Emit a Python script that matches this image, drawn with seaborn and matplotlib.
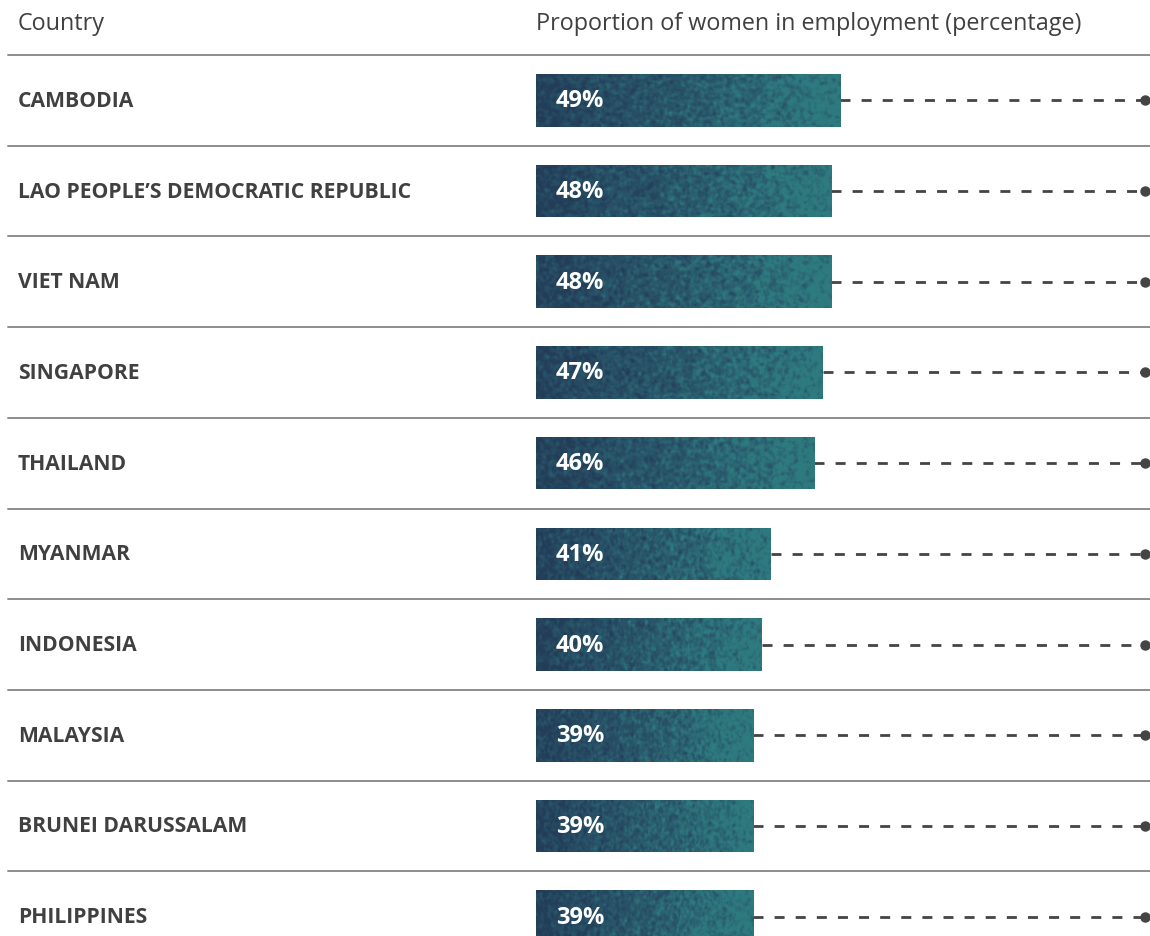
import matplotlib
matplotlib.use("Agg")
import matplotlib.pyplot as plt
import matplotlib.transforms as mtransforms
from matplotlib.colors import LinearSegmentedColormap
import numpy as np
import pandas as pd
import seaborn as sns

countries = [
    "CAMBODIA",
    "LAO PEOPLE\u2019S DEMOCRATIC REPUBLIC",
    "VIET NAM",
    "SINGAPORE",
    "THAILAND",
    "MYANMAR",
    "INDONESIA",
    "MALAYSIA",
    "BRUNEI DARUSSALAM",
    "PHILIPPINES",
]
share = [49, 48, 48, 47, 46, 41, 40, 39, 39, 39]

header_left = "Country"
header_right = "Proportion of women in employment (percentage)"

df = pd.DataFrame({"country": countries, "share": share})

sns.set_theme(style="white")
plt.rcParams["font.family"] = ["Open Sans", "DejaVu Sans"]

W, H = 1150, 937
fig = plt.figure(figsize=(W / 100, H / 100), dpi=100)
ax = fig.add_axes([536 / W, 1 - 963 / H, 614 / W, 907 / H])

text_col = "#404040"
bar_h = 0.58

sns.barplot(data=df, x="share", y="country", orient="h", color="#2b6470",
            width=bar_h, ax=ax)

# axis starts at 14 so bars begin at the left edge of the plotting area
x_lo, x_hi = 14, 84.66
leader_end = 84.1


def blur(a, n=2):
    for _ in range(n):
        a = (a + np.roll(a, 1, 0) + np.roll(a, -1, 0)
             + np.roll(a, 1, 1) + np.roll(a, -1, 1)) / 5
    return a


# speckled dark-to-teal fill on each bar
cmap = LinearSegmentedColormap.from_list("bar", ["#233d58", "#29566a", "#2e7b7f"])
rng = np.random.default_rng(7)
for patch, val in zip(ax.patches, df["share"]):
    y0 = patch.get_y()
    h = patch.get_height()
    ny, nx = 52, 300
    grad = np.tile(np.linspace(0.1, 1.0, nx), (ny, 1))
    blotch = blur(rng.normal(0, 0.6, (ny, nx)), 4)
    grain = blur(rng.normal(0, 0.15, (ny, nx)), 1)
    img = np.clip(grad + blotch + grain, 0, 1)
    im = ax.imshow(img, cmap=cmap, vmin=0, vmax=1, aspect="auto",
                   extent=(x_lo, val, y0 + h, y0), interpolation="bilinear",
                   zorder=2)
    im.set_clip_path(patch)

    ax.plot([val, leader_end], [y0 + h / 2] * 2, color="#444444", lw=2,
            linestyle=(0, (3.6, 4.0)), zorder=1, solid_capstyle="butt")
    ax.plot([leader_end], [y0 + h / 2], marker="o", ms=6.5, color="#444444",
            clip_on=False, zorder=3)
    ax.text(x_lo + 2.3, y0 + h / 2, f"{val}%", color="white", fontsize=17,
            fontweight="bold", va="center", ha="left", zorder=4)

ax.set_xlim(x_lo, x_hi)
ax.set_ylim(len(countries) - 0.5, -0.5)
ax.axis("off")

# country names and row rules, x in figure units
blend = mtransforms.blended_transform_factory(fig.transFigure, ax.transData)
for i, name in enumerate(countries):
    ax.text(18 / W, i, name, transform=blend, color=text_col, fontsize=15.2,
            fontweight="bold", va="center", ha="left")
    ax.plot([8 / W, 1.0], [i - 0.5, i - 0.5], transform=blend, color="#8c8c8c",
            lw=1.4, clip_on=False, zorder=0)

fig.text(18 / W, 1 - 24 / H, header_left, color=text_col, fontsize=16.8,
         va="center", ha="left")
fig.text(536 / W, 1 - 24 / H, header_right, color=text_col, fontsize=16.8,
         va="center", ha="left")

fig.savefig("out.png", dpi=100, facecolor="white")
